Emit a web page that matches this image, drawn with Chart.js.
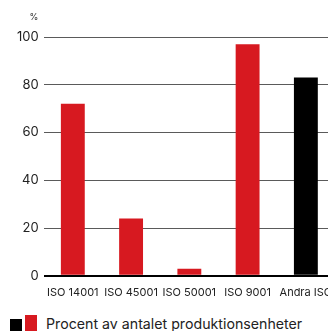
<!DOCTYPE html>
<html>
<head>
<meta charset="utf-8">
<script src="https://cdn.jsdelivr.net/npm/chart.js@4/dist/chart.umd.min.js"></script>
<style>
  html, body { margin: 0; padding: 0; background: #fff; overflow: hidden; width: 328px; height: 331px; }
  #wrap { position: absolute; left: 0; top: 0; width: 400px; height: 309px; }
  .legend { position: absolute; left: 0; top: 311px; width: 400px; height: 30px; font-family: Inter, sans-serif; font-size: 14.2px; color: #222; }
  .sq { position: absolute; }
</style>
</head>
<body>
<div id="wrap"><canvas id="chart"></canvas></div>
<div class="legend">
  <span class="sq" style="left:10px;top:8px;width:12px;height:14px;background:#000"></span>
  <span class="sq" style="left:25px;top:4px;width:12px;height:18px;background:#d71920"></span>
  <span style="position:absolute;left:46px;top:4px;white-space:nowrap">Procent av antalet produktionsenheter</span>
</div>
<script>
const categories = ['ISO 14001', 'ISO 45001', 'ISO 50001', 'ISO 9001', 'Andra ISO'];
const values = [72, 24, 3, 97, 83];
const barColors = ['#d71920', '#d71920', '#d71920', '#d71920', '#000000'];
const yTicks = [0, 20, 40, 60, 80, 100];

const unitLabel = {
    id: 'unitLabel',
    afterDraw(chart) {
        const ctx = chart.ctx;
        ctx.save();
        ctx.font = '9px Inter, sans-serif';
        ctx.fillStyle = '#333';
        ctx.textAlign = 'center';
        ctx.textBaseline = 'middle';
        ctx.fillText('%', 34, 17);
        ctx.restore();
    }
};

new Chart(document.getElementById('chart'), {
    type: 'bar',
    data: {
        labels: categories,
        datasets: [{
            data: values,
            backgroundColor: barColors,
            barPercentage: 0.82,
            categoryPercentage: 0.5
        }]
    },
    options: {
        responsive: true,
        maintainAspectRatio: false,
        animation: false,
        layout: { padding: { top: 37, right: 65, left: 12, bottom: 0 } },
        plugins: { legend: { display: false }, tooltip: { enabled: false } },
        scales: {
            x: {
                grid: { display: false, drawTicks: false },
                border: { display: false },
                ticks: { color: '#222', font: { family: 'Inter', size: 11 }, padding: 10, maxRotation: 0, autoSkip: false }
            },
            y: {
                min: 0,
                max: 100,
                afterBuildTicks: axis => { axis.ticks = yTicks.map(v => ({ value: v })); },
                border: { display: false },
                grid: {
                    drawTicks: false,
                    color: c => c.tick.value === 0 ? '#000' : '#5a5a5a',
                    lineWidth: c => c.tick.value === 0 ? 2 : 1
                },
                ticks: { color: '#222', font: { family: 'Inter', size: 13 }, padding: 5 }
            }
        }
    },
    plugins: [unitLabel]
});
</script>
</body>
</html>
